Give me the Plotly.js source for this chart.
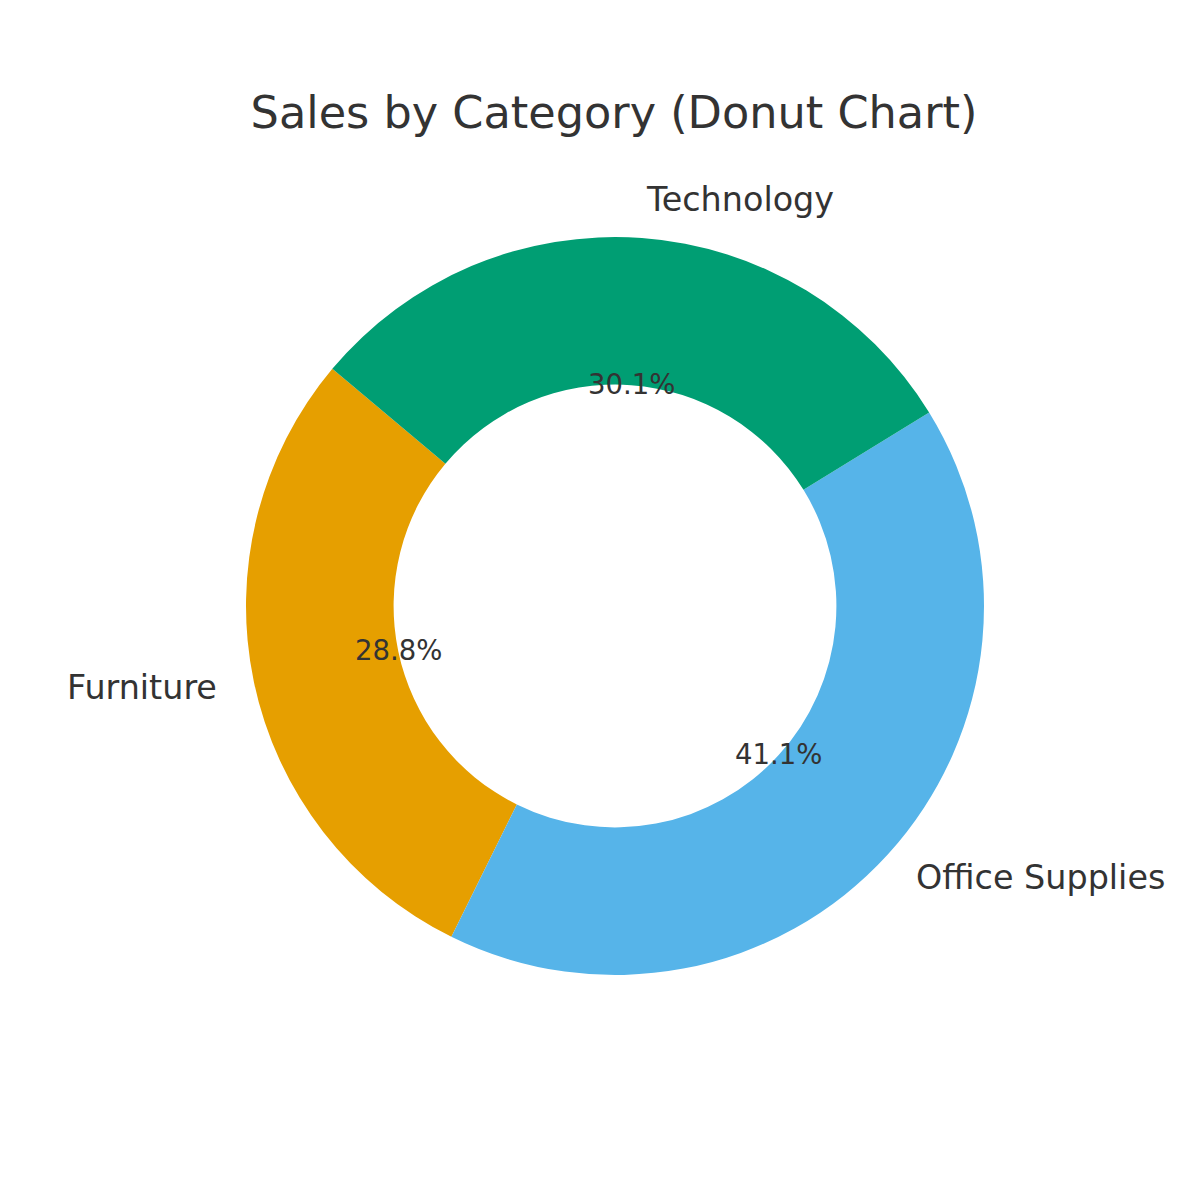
<!DOCTYPE html>
<html>
<head>
<meta charset="utf-8">
<script src="https://cdn.plot.ly/plotly-3.0.1.min.js"></script>
<style>html,body{margin:0;padding:0;background:#fff;}#chart{width:1200px;height:1200px;}</style>
</head>
<body>
<div id="chart"></div>
<script>
var categories = ["Furniture", "Office Supplies", "Technology"];
var sharePercent = [28.8, 41.1, 30.1];
var sliceColors = ["#E69F00", "#56B4E9", "#009E73"];
var chartTitle = "Sales by Category (Donut Chart)";

var W = 1200, H = 1200;
var cx = 615, cy = 606, R = 369;
var startAngle = 140; // degrees, math convention, counterclockwise
var textColor = "#333333";
var fontFam = "DejaVu Sans, sans-serif";

var total = sharePercent.reduce(function(a, b){ return a + b; }, 0);

var annotations = [];
var acc = 0;
for (var i = 0; i < categories.length; i++) {
  var frac = sharePercent[i] / total;
  var mid = (startAngle + 360 * (acc + frac / 2)) * Math.PI / 180;
  acc += frac;
  var lx = cx + 1.1 * R * Math.cos(mid), ly = cy - 1.1 * R * Math.sin(mid) - 1.5;
  annotations.push({
    xref: "paper", yref: "paper", x: lx / W, y: 1 - ly / H,
    text: categories[i], showarrow: false, borderpad: 0,
    xanchor: Math.cos(mid) < 0 ? "right" : "left", yanchor: "middle",
    font: {family: fontFam, size: 33.4, color: textColor}
  });
  var px = cx + 0.6 * R * Math.cos(mid), py = cy - 0.6 * R * Math.sin(mid) - 1;
  annotations.push({
    xref: "paper", yref: "paper", x: px / W, y: 1 - py / H,
    text: (frac * 100).toFixed(1) + "%", showarrow: false, borderpad: 0,
    xanchor: "center", yanchor: "middle",
    font: {family: fontFam, size: 27.5, color: textColor}
  });
}

var firstAngle = 360 * sharePercent[0] / total;
var trace = {
  type: "pie",
  labels: categories,
  values: sharePercent,
  sort: false,
  direction: "counterclockwise",
  rotation: (90 - startAngle) - firstAngle,
  hole: 0.6,
  textinfo: "none",
  hoverinfo: "label+percent",
  marker: {colors: sliceColors, line: {width: 0}},
  domain: {x: [(cx - R) / W, (cx + R) / W], y: [1 - (cy + R) / H, 1 - (cy - R) / H]},
  showlegend: false
};

var layout = {
  width: W, height: H,
  margin: {l: 0, r: 0, t: 0, b: 0},
  paper_bgcolor: "#ffffff",
  showlegend: false,
  title: {
    text: chartTitle,
    x: 614 / W, xanchor: "center",
    y: 1 - 112 / H, yanchor: "middle",
    font: {family: fontFam, size: 44.6, color: textColor}
  },
  annotations: annotations
};

Plotly.newPlot("chart", [trace], layout, {displayModeBar: false, staticPlot: true});
</script>
</body>
</html>
